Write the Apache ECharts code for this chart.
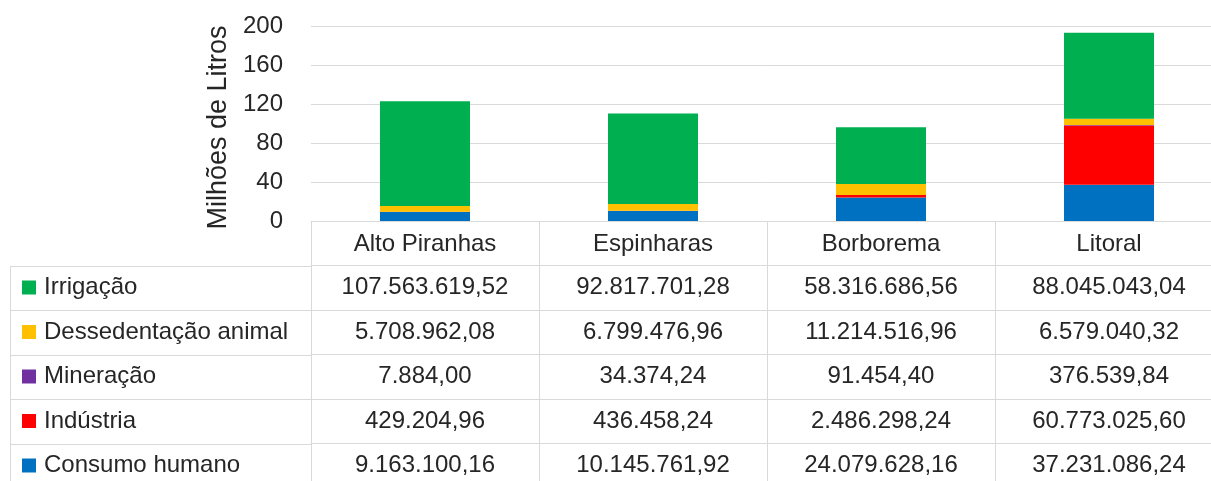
<!DOCTYPE html>
<html>
<head>
<meta charset="utf-8">
<script src="https://cdn.jsdelivr.net/npm/echarts@6/dist/echarts.min.js"></script>
<style>html,body{margin:0;padding:0;background:#fff}#c{width:1211px;height:481px}</style>
</head>
<body>
<div id="c"></div>
<script>
// ---- data ----
const categories = ['Alto Piranhas', 'Espinharas', 'Borborema', 'Litoral'];
const seriesNames = ['Irrigação', 'Dessedentação animal', 'Mineração', 'Indústria', 'Consumo humano'];
const irrigacao = [107563619.52, 92817701.28, 58316686.56, 88045043.04];
const dessedentacao = [5708962.08, 6799476.96, 11214516.96, 6579040.32];
const mineracao = [7884.00, 34374.24, 91454.40, 376539.84];
const industria = [429204.96, 436458.24, 2486298.24, 60773025.60];
const consumo = [9163100.16, 10145761.92, 24079628.16, 37231086.24];
const yTicks = [0, 40, 80, 120, 160, 200];
const axisTitle = 'Milhões de Litros';

// ---- build ----
const rows = [irrigacao, dessedentacao, mineracao, industria, consumo];
const colors = ['#00B050', '#FFC000', '#7030A0', '#FF0000', '#0070C0'];
const FONT = 'Liberation Sans';
const FS = 24;
const GRID_LEFT = 311, GRID_TOP = 26, AXIS_Y = 221, ROW_H = 44.5;
const GRID_W = 912;
const lineColor = '#d9d9d9';

function fmt(v) {
  const neg = v < 0; v = Math.abs(v);
  const s = v.toFixed(2);
  let [ip, dp] = s.split('.');
  ip = ip.replace(/\B(?=(\d{3})+(?!\d))/g, '.');
  return (neg ? '-' : '') + ip + ',' + dp;
}

const xAxes = [{
  type: 'category', data: categories, gridIndex: 0, position: 'bottom',
  axisLine: { show: true, lineStyle: { color: lineColor, width: 1 } },
  axisTick: { show: true, interval: 0, length: ROW_H, lineStyle: { color: lineColor } },
  axisLabel: { interval: 0, margin: 11, fontFamily: FONT, fontSize: FS, color: '#262626', lineHeight: 24, verticalAlign: 'top' }
}];
rows.forEach((row, r) => {
  xAxes.push({
    type: 'category', data: categories, gridIndex: 0, position: 'bottom',
    offset: ROW_H * (r + 1),
    axisLine: { show: true, onZero: false, lineStyle: { color: lineColor, width: 1 } },
    axisTick: { show: true, interval: 0, length: ROW_H, lineStyle: { color: lineColor } },
    axisLabel: { interval: 0, margin: 10, fontFamily: FONT, fontSize: FS, color: '#262626', lineHeight: 24, verticalAlign: 'top',
      formatter: (val, idx) => fmt(row[idx]) }
  });
});

// stacking bottom->top: Consumo, Indústria, Mineração, Dessedentação, Irrigação
const stackOrder = [4, 3, 2, 1, 0];
const series = stackOrder.map(i => ({
  name: seriesNames[i], type: 'bar', stack: 'total', xAxisIndex: 0, yAxisIndex: 0,
  barWidth: 90,
  itemStyle: { color: colors[i] },
  data: rows[i].map(v => v / 1e6)
}));

// left column borders
const graphics = [];
for (let r = 0; r < 5; r++) {
  const y = Math.round(AXIS_Y + ROW_H * (r + 1)) + 0.5;
  graphics.push({ type: 'line', shape: { x1: 10, y1: y, x2: GRID_LEFT, y2: y }, style: { stroke: lineColor, lineWidth: 1 } });
}
graphics.push({ type: 'line', shape: { x1: 10.5, y1: Math.round(AXIS_Y + ROW_H) + 0.5, x2: 10.5, y2: 481 }, style: { stroke: lineColor, lineWidth: 1 } });

const chart = echarts.init(document.getElementById('c'), null, { renderer: 'canvas' });
chart.setOption({
  animation: false,
  backgroundColor: '#fff',
  textStyle: { fontFamily: FONT },
  grid: { left: GRID_LEFT, top: GRID_TOP, width: GRID_W, height: AXIS_Y - GRID_TOP, outerBoundsMode: 'none', containLabel: false },
  legend: {
    orient: 'vertical', left: 22, top: AXIS_Y + ROW_H + 10, padding: 0,
    data: seriesNames, icon: 'rect', itemWidth: 14, itemHeight: 14,
    itemGap: ROW_H - 24,
    textStyle: { fontFamily: FONT, fontSize: FS, color: '#262626', lineHeight: 24, padding: [0, 0, 0, 3] },
    selectedMode: false
  },
  xAxis: xAxes,
  yAxis: {
    type: 'value', min: yTicks[0], max: yTicks[yTicks.length - 1], interval: yTicks[1] - yTicks[0],
    name: axisTitle, nameLocation: 'middle', nameGap: 79,
    nameTextStyle: { fontFamily: FONT, fontSize: 27, color: '#262626', padding: [0, 8, 0, 0] },
    axisLine: { show: false }, axisTick: { show: false },
    axisLabel: { margin: 28, fontFamily: FONT, fontSize: FS, color: '#262626' },
    splitLine: { lineStyle: { color: lineColor, width: 1 } }
  },
  graphic: graphics,
  series: series
});
</script>
</body>
</html>
